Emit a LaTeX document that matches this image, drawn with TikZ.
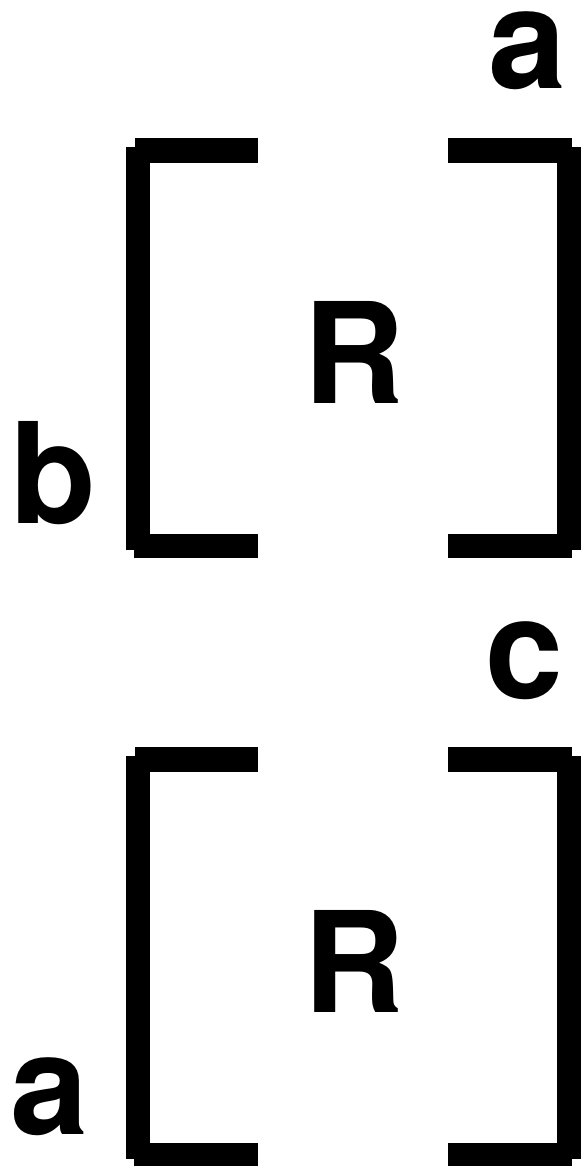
\documentclass[tikz,border=0pt]{standalone}
\usepackage{fontspec}
\setmainfont{TeX Gyre Heros}
\begin{document}
\begin{tikzpicture}[x=1pt,y=-1pt,
  lbl/.style={inner sep=0pt,outer sep=0pt,anchor=center,font=\fontsize{140}{140}\selectfont\bfseries},
  bar/.style={fill=black,draw=none}]
\useasboundingbox (0,0) rectangle (582,1166);
% two bracket pairs
\foreach \dy in {0,609}{
  \fill[bar] (126,147+\dy) rectangle (150,550+\dy);
  \fill[bar] (135,138+\dy) rectangle (258,163+\dy);
  \fill[bar] (134,534+\dy) rectangle (258,558+\dy);
  \fill[bar] (448,138+\dy) rectangle (572,163+\dy);
  \fill[bar] (557,147+\dy) rectangle (581,550+\dy);
  \fill[bar] (448,534+\dy) rectangle (572,558+\dy);
}
\node[lbl] (a1) at (527,51) {a};
\node[lbl] (b1) at (53.5,473) {b};
\node[lbl] (r1) at (354.5,352.5) {R};
\node[lbl] (c2) at (524.5,661) {c};
\node[lbl] (r2) at (354.5,961.5) {R};
\node[lbl] (a2) at (49,1096.5) {a};
\end{tikzpicture}
\end{document}
